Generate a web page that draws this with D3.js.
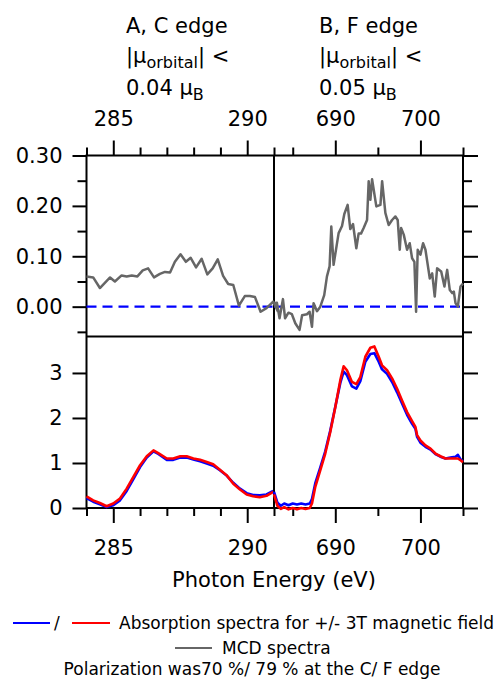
<!DOCTYPE html>
<html>
<head>
<meta charset="utf-8">
<script src="https://cdn.jsdelivr.net/npm/d3@7"></script>
<style>
  html, body { margin: 0; padding: 0; background: #fff; }
  svg { display: block; font-family: "DejaVu Sans", sans-serif; }
</style>
</head>
<body>
<svg id="chart" width="497" height="679"></svg>
<script>
// ---------- DATA ----------
const panelTitles = ["A, C edge", "B, F edge"];
const orbitalLimits = ["0.04", "0.05"];

const cTopTicks = [285, 290];
const cMinorTicks = [284, 286, 287, 288, 289, 291];
const fTopTicks = [690, 700];
const fMinorTicks = [685, 695, 705];
const mcdTicks = [0.00, 0.10, 0.20, 0.30];
const mcdMinorTicks = [-0.05, 0.05, 0.15, 0.25];
const absTicks = [0, 1, 2, 3];

// MCD, C edge
const mcdC_E = [284.0, 284.25, 284.5, 284.88, 285.06, 285.31, 285.5, 285.69, 285.9, 286.1, 286.3, 286.52, 286.74, 286.93, 287.12, 287.3, 287.51, 287.71, 287.89, 288.09, 288.3, 288.51, 288.71, 288.9, 289.1, 289.29, 289.48, 289.69, 289.91, 290.1, 290.29, 290.5, 290.72, 290.97, 291.15];
const mcdC_V = [0.060, 0.058, 0.037, 0.058, 0.050, 0.062, 0.060, 0.062, 0.060, 0.072, 0.076, 0.058, 0.065, 0.069, 0.068, 0.089, 0.104, 0.089, 0.097, 0.078, 0.095, 0.064, 0.076, 0.094, 0.061, 0.045, 0.043, 0.002, 0.021, 0.021, 0.019, -0.010, -0.003, 0.010, -0.010];

// MCD, F edge
const mcdF_E = [682.74, 683.14, 683.45, 683.85, 684.1, 684.5, 684.9, 685.3, 685.8, 686.1, 686.67, 686.98, 687.26, 687.45, 687.85, 688.24, 688.7, 689.02, 689.33, 689.53, 689.8, 690.39, 690.79, 691.06, 691.45, 691.76, 692.08, 692.47, 692.74, 693.02, 693.33, 693.73, 693.92, 694.12, 694.32, 694.82, 695.3, 695.5, 695.88, 696.27, 696.67, 697.06, 697.33, 697.57, 697.73, 698.04, 698.43, 698.74, 699.02, 699.29, 699.49, 699.68, 700.0, 700.31, 700.59, 701.1, 701.38, 701.68, 701.96, 702.44, 702.82, 703.14, 703.45, 703.73, 703.92, 704.12, 704.39, 704.71, 705.0];
const mcdF_V = [0.007, 0.008, -0.023, 0.015, -0.023, -0.012, -0.015, -0.033, -0.046, -0.017, -0.015, -0.010, -0.040, 0.007, -0.009, 0.000, 0.023, 0.060, 0.080, 0.159, 0.083, 0.146, 0.160, 0.184, 0.202, 0.154, 0.164, 0.116, 0.145, 0.145, 0.156, 0.172, 0.249, 0.212, 0.253, 0.199, 0.202, 0.249, 0.186, 0.162, 0.172, 0.179, 0.172, 0.113, 0.156, 0.143, 0.113, 0.126, 0.096, 0.089, -0.010, 0.113, 0.103, 0.126, 0.113, 0.056, 0.066, 0.020, 0.076, 0.070, 0.040, 0.073, 0.033, 0.027, 0.030, 0.007, 0.000, 0.040, 0.046];

// Absorption, C edge
const absC_E = [284.0, 284.25, 284.5, 284.75, 285.0, 285.25, 285.5, 285.75, 286.0, 286.25, 286.5, 286.68, 287.0, 287.24, 287.5, 287.74, 287.99, 288.24, 288.49, 288.73, 288.98, 289.23, 289.48, 289.73, 289.98, 290.22, 290.47, 290.72, 290.97];
const absC_plus = [0.22, 0.14, 0.08, 0.02, 0.06, 0.17, 0.38, 0.64, 0.91, 1.12, 1.26, 1.20, 1.07, 1.07, 1.12, 1.12, 1.08, 1.04, 0.99, 0.94, 0.84, 0.72, 0.56, 0.43, 0.33, 0.29, 0.28, 0.30, 0.38];
const absC_minus = [0.26, 0.17, 0.11, 0.04, 0.10, 0.21, 0.43, 0.69, 0.95, 1.15, 1.28, 1.22, 1.10, 1.10, 1.15, 1.15, 1.10, 1.07, 1.02, 0.97, 0.85, 0.73, 0.54, 0.41, 0.30, 0.26, 0.24, 0.27, 0.36];

// Absorption, F edge
const absF_E = [682.8, 683.2, 683.6, 684.0, 684.5, 685.0, 685.5, 686.0, 686.5, 687.0, 687.26, 687.65, 688.24, 688.82, 689.41, 690.0, 690.59, 690.98, 691.37, 691.96, 692.47, 692.94, 693.53, 694.12, 694.59, 695.1, 695.49, 696.08, 696.67, 697.26, 697.84, 698.43, 699.02, 699.41, 699.61, 700.0, 700.59, 701.18, 701.76, 702.35, 702.94, 703.53, 704.12, 704.4, 704.71, 705.0];
const absF_plus = [0.36, 0.12, 0.05, 0.10, 0.06, 0.10, 0.08, 0.10, 0.08, 0.10, 0.20, 0.55, 0.90, 1.26, 1.72, 2.25, 2.78, 3.03, 2.95, 2.70, 2.65, 2.82, 3.25, 3.42, 3.44, 3.25, 3.08, 2.98, 2.80, 2.57, 2.32, 2.07, 1.87, 1.76, 1.58, 1.45, 1.36, 1.30, 1.20, 1.14, 1.10, 1.12, 1.14, 1.18, 1.08, 1.04];
const absF_minus = [0.30, 0.05, -0.02, 0.02, -0.03, 0.00, -0.03, 0.00, -0.02, 0.00, 0.10, 0.47, 0.84, 1.21, 1.69, 2.24, 2.84, 3.15, 3.06, 2.80, 2.75, 2.91, 3.36, 3.56, 3.59, 3.36, 3.17, 3.06, 2.88, 2.65, 2.39, 2.13, 1.93, 1.80, 1.62, 1.50, 1.39, 1.32, 1.21, 1.15, 1.10, 1.10, 1.10, 1.10, 1.06, 1.02];

const legendText1 = "Absorption spectra for +/- 3T magnetic field";
const legendText2 = "MCD spectra";
const legendText3 = "Polarization was70 %/ 79 % at the C/ F edge";
const xTitle = "Photon Energy (eV)";

// ---------- LAYOUT ----------
const svg = d3.select("#chart");
const xL = 86.5, xM = 274, xR = 463;
const yT = 155.5, yM = 336.5, yB = 508;
const FS = 21;

const xC = d3.scaleLinear().domain([284, 291]).range([xL, xM]);
const xF = d3.scaleLinear().domain([682.8, 705]).range([xM, xR]);
const yMcd = d3.scaleLinear().domain([-0.0592, 0.30]).range([yM, yT]);
const yAbs = d3.scaleLinear().domain([0, 3.81]).range([yB, yM]);

function styleAxis(g) {
  g.select(".domain").remove();
  g.selectAll(".tick line").attr("stroke", "#000").attr("stroke-width", 2);
  g.selectAll(".tick text").attr("font-family", "DejaVu Sans, sans-serif").attr("font-size", FS).attr("fill", "#000");
}

// Top x axes
[[xC, cTopTicks, cMinorTicks], [xF, fTopTicks, fMinorTicks]].forEach(([sc, maj, mn]) => {
  svg.append("g").attr("transform", `translate(0,${yT})`)
    .call(d3.axisTop(sc).tickValues(mn).tickSize(8).tickFormat(""))
    .call(styleAxis);
  svg.append("g").attr("transform", `translate(0,${yT})`)
    .call(d3.axisTop(sc).tickValues(maj).tickSize(15).tickPadding(15).tickFormat(d3.format("d")))
    .call(styleAxis);
  svg.append("g").attr("transform", `translate(0,${yB})`)
    .call(d3.axisBottom(sc).tickValues(mn).tickSize(8).tickFormat(""))
    .call(styleAxis);
  svg.append("g").attr("transform", `translate(0,${yB})`)
    .call(d3.axisBottom(sc).tickValues(maj).tickSize(15).tickPadding(17).tickFormat(d3.format("d")))
    .call(styleAxis);
});

// Left/right y axes, MCD panel
svg.append("g").attr("transform", `translate(${xL},0)`)
  .call(d3.axisLeft(yMcd).tickValues(mcdMinorTicks).tickSize(9).tickFormat(""))
  .call(styleAxis);
svg.append("g").attr("transform", `translate(${xL},0)`)
  .call(d3.axisLeft(yMcd).tickValues(mcdTicks).tickSize(14).tickPadding(10).tickFormat(d3.format(".2f")))
  .call(styleAxis);
svg.append("g").attr("transform", `translate(${xR},0)`)
  .call(d3.axisRight(yMcd).tickValues(mcdMinorTicks).tickSize(9).tickFormat(""))
  .call(styleAxis);
svg.append("g").attr("transform", `translate(${xR},0)`)
  .call(d3.axisRight(yMcd).tickValues(mcdTicks).tickSize(15).tickFormat(""))
  .call(styleAxis);

// Absorption panel y axes
svg.append("g").attr("transform", `translate(${xL},0)`)
  .call(d3.axisLeft(yAbs).tickValues(absTicks).tickSize(14).tickPadding(10).tickFormat(d3.format("d")))
  .call(styleAxis);
svg.append("g").attr("transform", `translate(${xR},0)`)
  .call(d3.axisRight(yAbs).tickValues(absTicks).tickSize(15).tickFormat(""))
  .call(styleAxis);

// Frame lines
const frame = svg.append("g").attr("stroke", "#000").attr("stroke-width", 2).attr("fill", "none");
frame.append("rect").attr("x", xL).attr("y", yT).attr("width", xR - xL).attr("height", yB - yT);
frame.append("line").attr("x1", xM).attr("x2", xM).attr("y1", yT).attr("y2", yB);
frame.append("line").attr("x1", xL).attr("x2", xR).attr("y1", yM).attr("y2", yM);

// Dashed zero lines
[[xC, 284, 291], [xF, 682.8, 705]].forEach(([sc, a, b]) => {
  svg.append("line")
    .attr("x1", sc(a)).attr("x2", sc(b)).attr("y1", yMcd(0)).attr("y2", yMcd(0))
    .attr("stroke", "#0000ff").attr("stroke-width", 2.2).attr("stroke-dasharray", "10,6");
});

// Lines
function drawLine(xs, ys, sx, sy, color, w) {
  const pts = xs.map((d, i) => [d, ys[i]]);
  svg.append("path").datum(pts)
    .attr("d", d3.line().x(d => sx(d[0])).y(d => sy(d[1])))
    .attr("fill", "none").attr("stroke", color).attr("stroke-width", w)
    .attr("stroke-linejoin", "round");
}
drawLine(mcdC_E, mcdC_V, xC, yMcd, "#666666", 2.5);
drawLine(mcdF_E, mcdF_V, xF, yMcd, "#666666", 2.5);
drawLine(absC_E, absC_plus, xC, yAbs, "#0000ff", 2.6);
drawLine(absC_E, absC_minus, xC, yAbs, "#ff0000", 2.6);
drawLine(absF_E, absF_plus, xF, yAbs, "#0000ff", 2.6);
drawLine(absF_E, absF_minus, xF, yAbs, "#ff0000", 2.6);

// Header texts
const headX = [126, 319];
headX.forEach((hx, i) => {
  svg.append("text").attr("x", hx).attr("y", 33).attr("font-size", FS).text(panelTitles[i]);
  const t2 = svg.append("text").attr("x", hx).attr("y", 63).attr("font-size", FS);
  t2.append("tspan").text("|μ");
  t2.append("tspan").attr("font-size", 16).attr("dy", 5).text("orbital");
  t2.append("tspan").attr("dy", -5).text("| <");
  const t3 = svg.append("text").attr("x", hx).attr("y", 95).attr("font-size", FS);
  t3.append("tspan").text(orbitalLimits[i] + " μ");
  t3.append("tspan").attr("font-size", 16).attr("dy", 5).text("B");
});

// X title
svg.append("text").attr("x", 274).attr("y", 587).attr("text-anchor", "middle")
  .attr("font-size", FS).text(xTitle);

// Legend
const LF = 17;
svg.append("line").attr("x1", 13).attr("x2", 50).attr("y1", 623).attr("y2", 623).attr("stroke", "#0000ff").attr("stroke-width", 2);
svg.append("text").attr("x", 54).attr("y", 629).attr("font-size", LF).text("/");
svg.append("line").attr("x1", 72).attr("x2", 110).attr("y1", 623).attr("y2", 623).attr("stroke", "#ff0000").attr("stroke-width", 2);
svg.append("text").attr("x", 119).attr("y", 629).attr("font-size", LF).text(legendText1);
svg.append("line").attr("x1", 175).attr("x2", 212).attr("y1", 648).attr("y2", 648).attr("stroke", "#666666").attr("stroke-width", 2);
svg.append("text").attr("x", 222).attr("y", 654).attr("font-size", LF).text(legendText2);
svg.append("text").attr("x", 252).attr("y", 675).attr("text-anchor", "middle").attr("font-size", LF).text(legendText3);
</script>
</body>
</html>
